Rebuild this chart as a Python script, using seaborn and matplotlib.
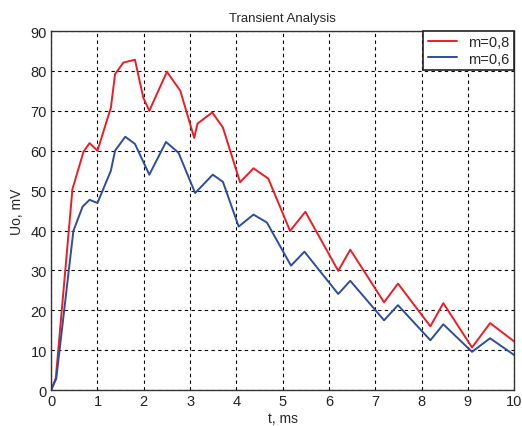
import numpy as np
import pandas as pd
import matplotlib
matplotlib.use("Agg")
import matplotlib.pyplot as plt
import seaborn as sns

# curve points
t_08 = [0, 0.1, 0.46, 0.7, 0.83, 1.0, 1.29, 1.38, 1.56, 1.81, 1.99, 2.12, 2.5, 2.79,
        3.09, 3.16, 3.48, 3.71, 4.08, 4.37, 4.69, 5.16, 5.49, 6.2, 6.46, 7.19, 7.49,
        8.19, 8.47, 9.09, 9.48, 10.0]
u_08 = [0, 3, 50.4, 59.8, 61.9, 60, 70.8, 79.2, 82.1, 82.8, 73.3, 70, 79.8, 75,
        63.2, 66.8, 69.6, 65.8, 52.1, 55.6, 53, 39.9, 44.7, 29.9, 35.2, 22, 26.7,
        16, 21.8, 10.7, 16.8, 12.2]

t_06 = [0, 0.11, 0.48, 0.68, 0.83, 1.0, 1.29, 1.38, 1.6, 1.81, 2.12, 2.48, 2.75,
        3.11, 3.49, 3.71, 4.05, 4.37, 4.66, 5.18, 5.47, 6.2, 6.46, 7.19, 7.49,
        8.19, 8.47, 9.09, 9.48, 10.0]
u_06 = [0, 2.9, 39.9, 46, 47.7, 46.9, 55, 60, 63.5, 61.7, 54, 62.2, 59.5,
        49.4, 54, 52.2, 41, 44, 42, 31.2, 34.7, 24.1, 27.4, 17.5, 21.3,
        12.5, 16.5, 9.6, 13, 8.8]

df = pd.concat([
    pd.DataFrame({"t": t_08, "u": u_08, "m": "m=0,8"}),
    pd.DataFrame({"t": t_06, "u": u_06, "m": "m=0,6"}),
])

sns.set_style("white")
plt.rcParams["font.family"] = ["Liberation Sans", "DejaVu Sans"]

fig = plt.figure(figsize=(5.22, 4.27), dpi=100)
ax = fig.add_axes([0.098, 0.084, 0.887, 0.841])

sns.lineplot(data=df, x="t", y="u", hue="m", sort=False, estimator=None,
             palette={"m=0,8": "#ee1c24", "m=0,6": "#2e4d9f"},
             linewidth=1.4, ax=ax)

ax.set_xlim(0, 10)
ax.set_ylim(0, 90)
ax.set_xticks(range(0, 11))
ax.set_yticks(range(0, 91, 10))
ax.grid(True, linestyle=(0, (3, 3)), color="black", linewidth=0.8)
for s in ax.spines.values():
    s.set_visible(True)
    s.set_color("#333333")
    s.set_linewidth(1.0)
ax.tick_params(labelsize=10.5, length=0, pad=3, labelcolor="#222222")
ax.set_title("Transient Analysis", fontsize=9.5, pad=7)
ax.set_xlabel("t, ms", fontsize=10, labelpad=2)
ax.set_ylabel("Uo, mV", fontsize=10, labelpad=5)

leg = ax.legend(loc="upper right", borderaxespad=0, fontsize=10.5,
                fancybox=False, framealpha=1, edgecolor="#222222",
                handlelength=2.0, handletextpad=0.8, borderpad=0.3,
                labelspacing=0.15)
leg.get_frame().set_linewidth(1.2)

fig.savefig("out.png", dpi=100)
